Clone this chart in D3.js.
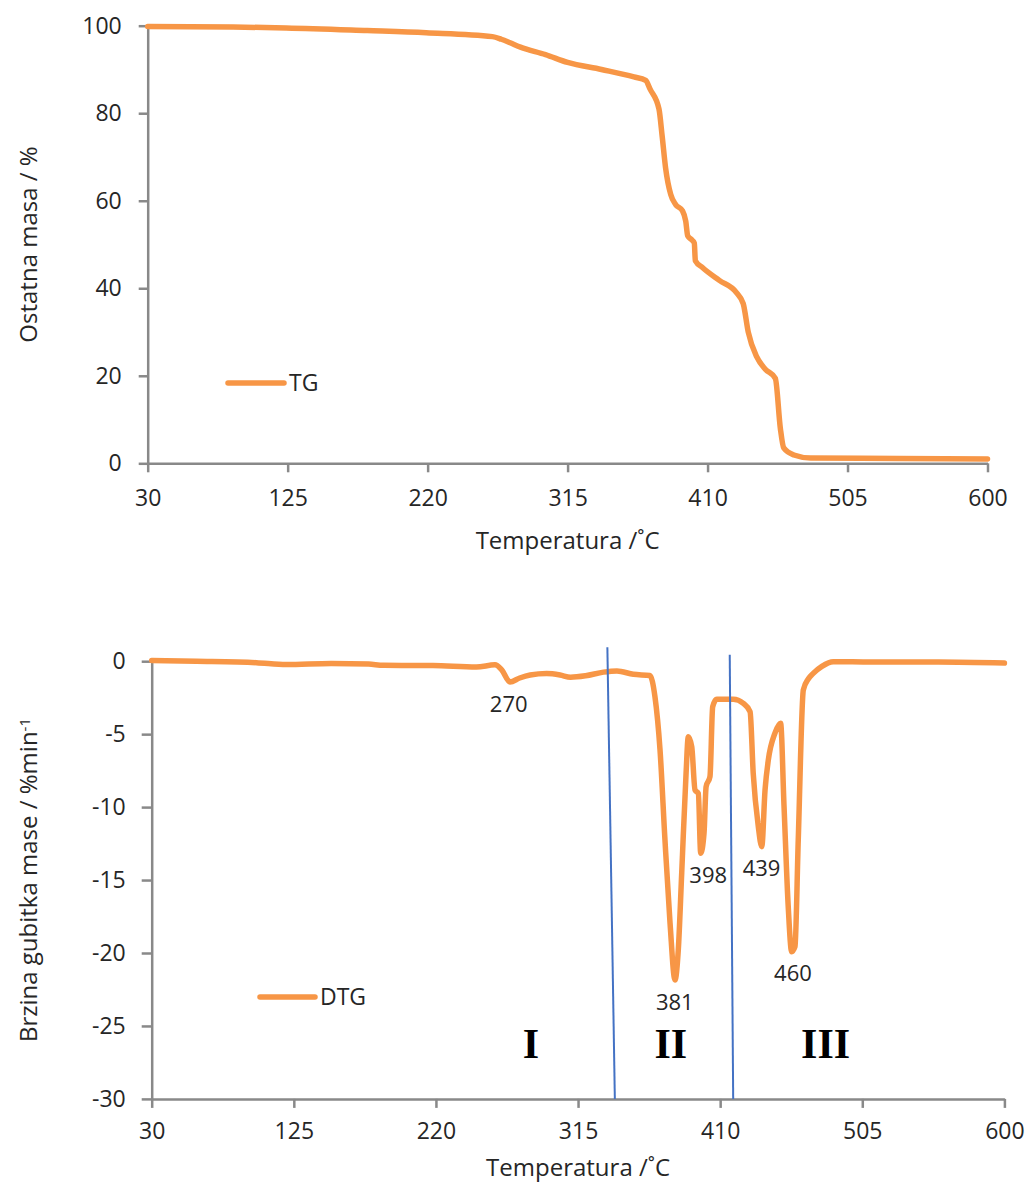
<!DOCTYPE html>
<html>
<head>
<meta charset="utf-8">
<script src="https://cdn.jsdelivr.net/npm/d3@7"></script>
<style>
  body { margin: 0; background: #fff; }
  text { font-family: "Open Sans", sans-serif; fill: #262626; }
  .axis path, .axis line { stroke: #898989; stroke-width: 2.5px; }
  .axis text { font-size: 23px; }
  .series { fill: none; stroke: #F79646; stroke-width: 5.5px; stroke-linejoin: round; stroke-linecap: round; }
</style>
</head>
<body>
<div id="main"></div>
<script>
// x ticks shared by both panels
var tempTicks = [30, 125, 220, 315, 410, 505, 600];
var tgTicks = [0, 20, 40, 60, 80, 100];
var dtgTicks = [0, -5, -10, -15, -20, -25, -30];

// TG curve (residual mass, %)
var tgTemp = [30, 88, 124, 179, 219, 264, 270, 276, 283, 300,
              315, 338, 360, 368, 371, 377, 379.2, 381.5, 385, 388.4,
              393, 395.2, 396.5, 399.5, 401, 401.7, 406.7, 418, 429.6, 434.2,
              437.6, 443.4, 449.2, 456, 459.4, 461.7, 468.6, 480, 540, 600];
var tgVal  = [99.8, 99.7, 99.5, 98.9, 98.4, 97.5, 96.9, 96.1, 95.1, 93.4,
              91.6, 90.0, 88.3, 87.5, 85.5, 81.0, 74.7, 67.5, 61.4, 59.1,
              57.7, 55.3, 52.0, 51.0, 50.3, 46.3, 44.7, 41.8, 39.0, 36.5,
              30.0, 24.3, 21.5, 19.4, 8.0, 3.5, 1.9, 1.2, 1.1, 1.0];

// DTG curve (mass loss rate, %/min)
var dtgTemp = [30, 60, 100, 120, 150, 175, 185, 218, 247, 259.5,
               264, 269.5, 276, 283, 294, 303, 310, 320, 332, 341,
               352, 363, 366.4, 369.8, 373.1, 376.5, 379.8, 382, 384.3, 387.2,
               388.7, 391, 393.2, 395.4, 397, 399.2, 400.6, 403.2, 405, 407.7,
               418.8, 425.5, 430, 432.1, 435.5, 437.8, 440, 442.2, 446.6, 450.4,
               452.7, 455.5, 457.8, 460, 462.2, 465.6, 469, 472.2, 478, 485.6,
               511, 556, 600];
var dtgVal  = [0.05, 0, -0.1, -0.23, -0.15, -0.2, -0.28, -0.3, -0.4, -0.25,
               -0.6, -1.42, -1.15, -0.95, -0.85, -0.95, -1.1, -1.0, -0.75, -0.67,
               -0.9, -0.98, -2.43, -6.09, -12.25, -17.96, -21.85, -19.8, -14.5, -7.7,
               -5.17, -5.86, -8.83, -9.06, -13.17, -11.8, -8.6, -7.9, -3.12, -2.61,
               -2.61, -2.89, -3.46, -7.69, -11.34, -12.71, -8.83, -6.77, -4.94, -4.26,
               -9.97, -16.83, -19.91, -19.57, -12.25, -1.97, -1.2, -0.83, -0.35, -0.03,
               -0.06, -0.06, -0.13];

// peak temperatures labelled on the DTG curve
var peakTemps = [270, 381, 398, 439, 460];

// stage boundaries (blue lines) and stage names
var stageNames = ['I', 'II', 'III'];
var stageCenters = [283.5, 377, 480.5];
var boundTopT = [334.6, 416.4],
    boundTopV = [0.95, 0.45],
    boundBotT = [339.6, 418.7],
    boundBotV = [-30, -30];

var width = 1027,
    height = 1186;

var svg = d3.select("#main").append("svg")
    .attr("width", width)
    .attr("height", height);

// ---------- top panel: TG ----------
var x1 = d3.scaleLinear().domain([30, 600]).range([147.7, 987.5]);
var y1 = d3.scaleLinear().domain([0, 100]).range([463.3, 25.7]);

svg.append("g")
    .attr("class", "axis")
    .attr("transform", "translate(0," + y1(0) + ")")
    .call(d3.axisBottom(x1).tickValues(tempTicks).tickSize(9).tickPadding(17).tickSizeOuter(0));

svg.append("g")
    .attr("class", "axis")
    .attr("transform", "translate(" + x1(30) + ",0)")
    .call(d3.axisLeft(y1).tickValues(tgTicks).tickSize(9).tickPadding(17).tickSizeOuter(0));

var tgLine = d3.line()
    .x(function(d) { return x1(tgTemp[d]); })
    .y(function(d) { return y1(tgVal[d]); })
    .curve(d3.curveMonotoneX);

svg.append("path")
    .attr("class", "series")
    .attr("d", tgLine(d3.range(tgTemp.length)));

svg.append("text")
    .attr("x", (x1.range()[0] + x1.range()[1]) / 2)
    .attr("y", 549)
    .attr("text-anchor", "middle")
    .style("font-size", "24px")
    .text("Temperatura /˚C");

svg.append("text")
    .attr("transform", "translate(37," + (y1(0) + y1(100)) / 2 + ") rotate(-90)")
    .attr("text-anchor", "middle")
    .style("font-size", "24px")
    .text("Ostatna masa / %");

// legend TG
svg.append("line")
    .attr("class", "series")
    .attr("x1", 228).attr("x2", 284)
    .attr("y1", 383).attr("y2", 383);
svg.append("text")
    .attr("x", 289).attr("y", 383)
    .attr("dy", "0.35em")
    .style("font-size", "23px")
    .text("TG");

// ---------- bottom panel: DTG ----------
var x2 = d3.scaleLinear().domain([30, 600]).range([151.7, 1004.4]);
var y2 = d3.scaleLinear().domain([-30, 0]).range([1098.9, 661.2]);

svg.append("g")
    .attr("class", "axis")
    .attr("transform", "translate(0," + y2(-30) + ")")
    .call(d3.axisBottom(x2).tickValues(tempTicks).tickSize(9).tickPadding(15).tickSizeOuter(0));

svg.append("g")
    .attr("class", "axis")
    .attr("transform", "translate(" + x2(30) + ",0)")
    .call(d3.axisLeft(y2).tickValues(dtgTicks).tickSize(10).tickPadding(16).tickSizeOuter(0)
      .tickFormat(function(d) { return d < 0 ? "-" + Math.abs(d) : d; }));

var dtgLine = d3.line()
    .x(function(d) { return x2(dtgTemp[d]); })
    .y(function(d) { return y2(dtgVal[d]); })
    .curve(d3.curveMonotoneX);

svg.append("path")
    .attr("class", "series")
    .attr("d", dtgLine(d3.range(dtgTemp.length)));

// stage boundaries
svg.selectAll(".bound")
    .data(boundTopT)
  .enter().append("line")
    .attr("class", "bound")
    .attr("x1", function(d, i) { return x2(boundTopT[i]); })
    .attr("y1", function(d, i) { return y2(boundTopV[i]); })
    .attr("x2", function(d, i) { return x2(boundBotT[i]); })
    .attr("y2", function(d, i) { return y2(boundBotV[i]); })
    .style("stroke", "#4472C4")
    .style("stroke-width", 2);

// peak labels, placed under the local minimum near each peak
function localMin(t) {
  var m = 0;
  dtgTemp.forEach(function(tt, i) {
    if (Math.abs(tt - t) <= 3.5 && dtgVal[i] < m) m = dtgVal[i];
  });
  return m;
}

svg.selectAll(".peak")
    .data(peakTemps)
  .enter().append("text")
    .attr("class", "peak")
    .attr("x", function(d) { return x2(d) + (d == 398 ? 6 : -2); })
    .attr("y", function(d) { return y2(localMin(d)) + 22; })
    .attr("dy", "0.35em")
    .attr("text-anchor", "middle")
    .style("font-size", "22px")
    .text(function(d) { return d; });

svg.selectAll(".stage")
    .data(stageNames)
  .enter().append("text")
    .attr("class", "stage")
    .attr("x", function(d, i) { return x2(stageCenters[i]); })
    .attr("y", y2(-27.2))
    .attr("text-anchor", "middle")
    .style("font-family", "'Liberation Serif', serif")
    .style("font-weight", "bold")
    .style("font-size", "42px")
    .style("fill", "#000")
    .text(function(d) { return d; });

svg.append("text")
    .attr("x", (x2.range()[0] + x2.range()[1]) / 2)
    .attr("y", 1176)
    .attr("text-anchor", "middle")
    .style("font-size", "24px")
    .text("Temperatura /˚C");

var yt = svg.append("text")
    .attr("transform", "translate(37," + (y2(0) + y2(-30)) / 2 + ") rotate(-90)")
    .attr("text-anchor", "middle")
    .style("font-size", "24px");
yt.append("tspan").text("Brzina gubitka mase  / %min");
yt.append("tspan").attr("dy", "-0.5em").style("font-size", "15px").text("-1");

// legend DTG
svg.append("line")
    .attr("class", "series")
    .attr("x1", 260).attr("x2", 315)
    .attr("y1", 997).attr("y2", 997);
svg.append("text")
    .attr("x", 320).attr("y", 997)
    .attr("dy", "0.35em")
    .style("font-size", "23px")
    .text("DTG");
</script>
</body>
</html>
